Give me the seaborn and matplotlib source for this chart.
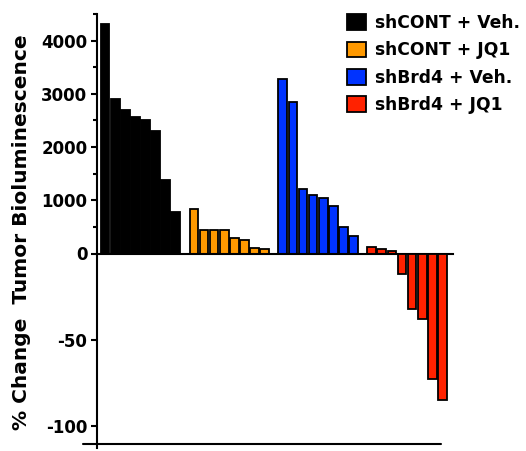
import matplotlib
matplotlib.use("Agg")
import matplotlib.pyplot as plt
from matplotlib.patches import Patch
from matplotlib.ticker import MultipleLocator
import seaborn as sns
import pandas as pd

# values (% change tumor bioluminescence)
groups = ["shCONT + Veh.", "shCONT + JQ1", "shBrd4 + Veh.", "shBrd4 + JQ1"]
colors = ["#000000", "#FF9900", "#0033FF", "#FF2200"]

shcont_veh = [4320, 2910, 2700, 2570, 2500, 2300, 1390, 780]
shcont_jq1 = [830, 450, 450, 440, 300, 255, 95, 80]
shbrd4_veh = [3270, 2840, 1220, 1090, 1045, 895, 505, 330]
shbrd4_jq1 = [115, 85, 40, -12, -32, -38, -73, -85]

upper_ticks = [0, 1000, 2000, 3000, 4000]
lower_ticks = [-100, -50]

GROUP_STEP = 8.8  # bar slots between the starts of two groups

rows = []
for gi, vals in enumerate([shcont_veh, shcont_jq1, shbrd4_veh, shbrd4_jq1]):
    for i, v in enumerate(vals):
        rows.append({"x": gi * GROUP_STEP + i, "value": v, "group": groups[gi]})
df = pd.DataFrame(rows)
palette = dict(zip(groups, colors))

sns.set_style("ticks")
plt.rcParams["font.family"] = ["DejaVu Sans"]
plt.rcParams["font.weight"] = "bold"
plt.rcParams["axes.unicode_minus"] = False
for key in ["text.color", "axes.labelcolor", "xtick.color", "ytick.color", "axes.edgecolor"]:
    plt.rcParams[key] = "black"

W, H = 526, 451
fig = plt.figure(figsize=(W / 100, H / 100), dpi=100)


def px_axes(left, top, right, bottom):
    return fig.add_axes([left / W, 1 - bottom / H, (right - left) / W, (bottom - top) / H])


ax_top = px_axes(97, 14, 453, 253.5)
ax_bot = px_axes(97, 253.5, 453, 448)

bar_kw = dict(x="x", y="value", hue="group", palette=palette, native_scale=True,
              dodge=False, width=0.86, edgecolor="black", linewidth=1.3,
              saturation=1, errorbar=None, legend=False)

sns.barplot(data=df[df["value"] > 0], ax=ax_top, **bar_kw)
sns.barplot(data=df[df["value"] < 0], ax=ax_bot, **bar_kw)

xlim = (-0.8, 34.45)
for ax in (ax_top, ax_bot):
    ax.set_xlim(*xlim)
    ax.set_xticks([])
    ax.set_xlabel("")
    ax.set_ylabel("")
    ax.set_facecolor("none")
    ax.spines["top"].set_visible(False)
    ax.spines["right"].set_visible(False)
    ax.spines["left"].set_linewidth(1.5)
    ax.tick_params(axis="y", direction="out", length=4.5, width=1.5,
                   labelsize=12, pad=2.5, colors="black")
    ax.tick_params(axis="y", which="minor", direction="out", length=3, width=1.5)
    ax.tick_params(axis="x", length=0)

# upper segment
ax_top.set_ylim(0, 4500)
ax_top.set_yticks(upper_ticks)
ax_top.yaxis.set_minor_locator(MultipleLocator(500))
ax_top.spines["bottom"].set_linewidth(1.5)

# lower segment
ax_bot.set_ylim(-113, 0)
ax_bot.set_yticks(lower_ticks)
ax_bot.spines["bottom"].set_visible(False)
ax_bot.plot([-0.039, 0.966], [0.019, 0.019], transform=ax_bot.transAxes,
            color="black", lw=1.5, clip_on=False)

for ax in (ax_top, ax_bot):
    for lab in ax.get_yticklabels():
        lab.set_fontweight("bold")

fig.text(22 / W, 0.4845, "% Change  Tumor Bioluminescence", rotation=90,
         ha="center", va="center", fontsize=14.5, fontweight="bold")

handles = [Patch(facecolor=c, edgecolor="black", linewidth=1.3) for c in colors]
fig.legend(handles, groups, loc="upper left", bbox_to_anchor=(347 / W, 1 - 14 / H),
           frameon=False, prop={"size": 12.3, "weight": "bold"},
           handlelength=1.12, handleheight=1.05, handletextpad=0.5,
           labelspacing=0.55, borderaxespad=0, borderpad=0)

fig.savefig("out.png", dpi=100)
